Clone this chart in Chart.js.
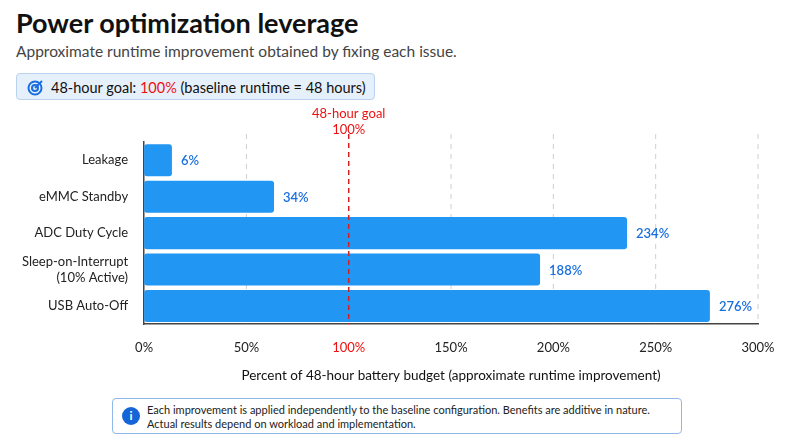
<!DOCTYPE html>
<html><head><meta charset="utf-8">
<script src="https://cdn.jsdelivr.net/npm/chart.js@4"></script>
<style>
body{margin:0;width:800px;height:445px;background:#fff;font-family:Lato,"Open Sans",sans-serif;position:relative;overflow:hidden;color:#111}
#t{position:absolute;left:16px;top:6px;font-size:27px;font-weight:700}
#s{position:absolute;left:16px;top:42px;font-size:15.5px;color:#444}
#g{position:absolute;left:16px;top:73px;width:359px;height:27px;background:#e6f0fb;border:1px solid #b9d3ef;border-radius:4px;font-size:14.5px;line-height:27px;box-sizing:border-box;padding-left:34px}
#g b{font-weight:400;color:#e11}
#g svg{position:absolute;left:10px;top:5px}
#n{position:absolute;left:112px;top:398px;width:570px;height:36px;border:1px solid #8fb8e8;border-radius:4px;font-size:11px;line-height:14px;box-sizing:border-box;padding:4px 0 0 34px;color:#222}
#n i{position:absolute;left:9px;top:8px;width:18px;height:18px;border-radius:50%;background:#1565d8;color:#fff;font-style:normal;font-weight:700;text-align:center;line-height:18px;font-size:12px}
#c{position:absolute;left:0;top:100px}
</style></head><body>
<div id="t">Power optimization leverage</div>
<div id="s">Approximate runtime improvement obtained by fixing each issue.</div>
<div id="g"><svg width="17" height="17" viewBox="0 0 17 17"><circle cx="8" cy="9" r="6.5" fill="none" stroke="#1a6fe0" stroke-width="2"/><circle cx="8" cy="9" r="3" fill="none" stroke="#1a6fe0" stroke-width="2"/><path d="M8 9L15 2" stroke="#1a6fe0" stroke-width="2"/></svg>48-hour goal: <b>100%</b> (baseline runtime = 48 hours)</div>
<canvas id="c" width="800" height="292"></canvas>
<div id="n"><i>i</i>Each improvement is applied independently to the baseline configuration. Benefits are additive in nature.<br>Actual results depend on workload and implementation.</div>
<script>
const categories = ['Leakage', 'eMMC Standby', 'ADC Duty Cycle', ['Sleep-on-Interrupt', '(10% Active)'], 'USB Auto-Off'];
const barValues = [13.6, 63.5, 236, 193.5, 276.5];
const valueLabels = ['6%', '34%', '234%', '188%', '276%'];
const goal = 100;

const extras = {
  id: 'extras',
  beforeDatasetsDraw(chart) {
    const c = chart.ctx, x = chart.scales.x, a = chart.chartArea;
    c.save();
    c.strokeStyle = '#cfcfcf'; c.lineWidth = 1; c.setLineDash([5, 5]);
    x.ticks.forEach(t => {
      if (t.value === 0 || t.value === goal) return;
      const px = x.getPixelForValue(t.value);
      c.beginPath(); c.moveTo(px, a.top - 8); c.lineTo(px, a.bottom); c.stroke();
    });
    c.restore();
  },
  afterDatasetsDraw(chart) {
    const c = chart.ctx, x = chart.scales.x, a = chart.chartArea;
    c.save();
    c.font = '600 13px Lato';
    c.fillStyle = '#1a6fe0';
    c.textBaseline = 'middle';
    chart.getDatasetMeta(0).data.forEach((b, i) => c.fillText(valueLabels[i], b.x + 9, b.y + 1));
    const gx = x.getPixelForValue(goal);
    c.strokeStyle = '#d42020'; c.lineWidth = 1.5; c.setLineDash([5, 4]);
    c.beginPath(); c.moveTo(gx, a.top - 8); c.lineTo(gx, a.bottom); c.stroke();
    c.setLineDash([]);
    c.fillStyle = '#e11'; c.textAlign = 'center'; c.font = '13px Lato';
    c.fillText('48-hour goal', gx, 14); c.fillText('100%', gx, 30);
    c.restore();
  }
};

new Chart(document.getElementById('c'), {
  type: 'bar',
  data: { labels: categories, datasets: [{ data: barValues, backgroundColor: '#2196f3', borderRadius: 3, borderSkipped: false, categoryPercentage: 0.88, barPercentage: 1 }] },
  options: {
    indexAxis: 'y', responsive: false, animation: false,
    layout: { padding: { top: 42, right: 42, left: 14, bottom: 4 } },
    plugins: { legend: { display: false }, tooltip: { enabled: false } },
    scales: {
      x: {
        min: 0, max: 300,
        ticks: { stepSize: 50, padding: 8, callback: v => v + '%', color: c => c.tick && c.tick.value === 100 ? '#e11' : '#222', font: { size: 13, family: 'Lato' } },
        grid: { display: false },
        border: { color: '#444', width: 1.5 },
        title: { display: true, text: 'Percent of 48-hour battery budget (approximate runtime improvement)', color: '#111', font: { size: 13.5, family: 'Lato' } }
      },
      y: {
        ticks: { color: '#222', padding: 8, font: { size: 13, family: 'Lato' } },
        grid: { display: false },
        border: { color: '#444', width: 1.5 }
      }
    }
  },
  plugins: [extras]
});
</script>
</body></html>
